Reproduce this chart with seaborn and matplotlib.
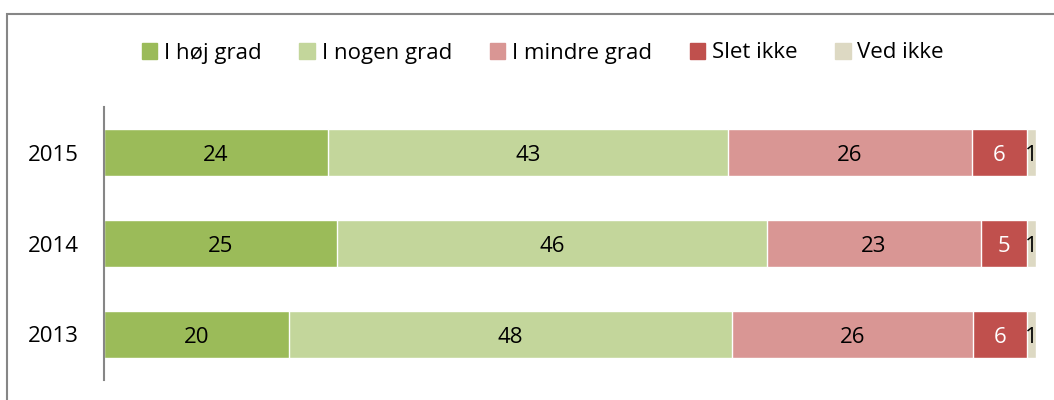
import matplotlib
matplotlib.use("Agg")
import numpy as np
import pandas as pd
import matplotlib.pyplot as plt
import matplotlib.patches as mpatches
import seaborn as sns

# Data (shares in percent)
years = ["2015", "2014", "2013"]
categories = ["I høj grad", "I nogen grad", "I mindre grad", "Slet ikke", "Ved ikke"]
hoj = [24.0, 25.0, 19.8]
nogen = [43.0, 46.1, 47.6]
mindre = [26.1, 23.0, 25.8]
slet = [5.9, 4.9, 5.8]
ved = [1.0, 1.0, 1.0]
colors = ["#9BBB59", "#C3D69B", "#D99694", "#C0504D", "#DDD9C3"]
label_colors = ["black", "black", "black", "white", "black"]

sns.set_style("white")
plt.rcParams["font.family"] = ["Open Sans", "DejaVu Sans"]
plt.rcParams["text.color"] = "black"
plt.rcParams["ytick.color"] = "black"

df = pd.DataFrame({"year": years, categories[0]: hoj, categories[1]: nogen,
                   categories[2]: mindre, categories[3]: slet, categories[4]: ved})
cum = df[categories].cumsum(axis=1)

fig = plt.figure(figsize=(10.54, 4), dpi=100)
ax = fig.add_axes([104 / 1054, 20 / 400, 932 / 1054, 273 / 400])

# draw cumulative totals from the last series backwards so that each layer shows
for cat, col in reversed(list(zip(categories, colors))):
    sns.barplot(x=cum[cat], y=df["year"], order=years, color=col, orient="h",
                width=0.52, ax=ax, saturation=1, legend=False)

# value labels in the middle of each segment
for i, cat in enumerate(categories):
    left = cum[cat] - df[cat]
    for j, v in enumerate(df[cat]):
        ax.text(left[j] + v / 2, j + 0.03, f"{v:.0f}", ha="center", va="center",
                fontsize=16, color=label_colors[i])

ax.set_xlim(0, 100)
ax.set_ylim(2.5, -0.5)
ax.set_xlabel("")
ax.set_ylabel("")
ax.set_xticks([])
ax.tick_params(axis="y", labelsize=16, length=0, pad=18, labelcolor="black")
for s in ["top", "right", "bottom"]:
    ax.spines[s].set_visible(False)
ax.spines["left"].set_color("#868686")
ax.spines["left"].set_linewidth(1.5)

handles = [mpatches.Patch(color=c, label=l) for l, c in zip(categories, colors)]
fig.legend(handles=handles, loc="center", bbox_to_anchor=(0.515, 1 - 53 / 400),
           ncol=5, frameon=False, fontsize=16, handlelength=0.7, handleheight=0.7,
           handletextpad=0.3, columnspacing=1.7, labelcolor="black")

# outer chart frame (cut off at right and bottom like the screenshot)
fig.patches.append(mpatches.Rectangle((7 / 1054, -0.1), 1.2, 1.065, transform=fig.transFigure,
                                      fill=False, edgecolor="#868686", linewidth=1.5))

fig.savefig("out.png", dpi=100)
